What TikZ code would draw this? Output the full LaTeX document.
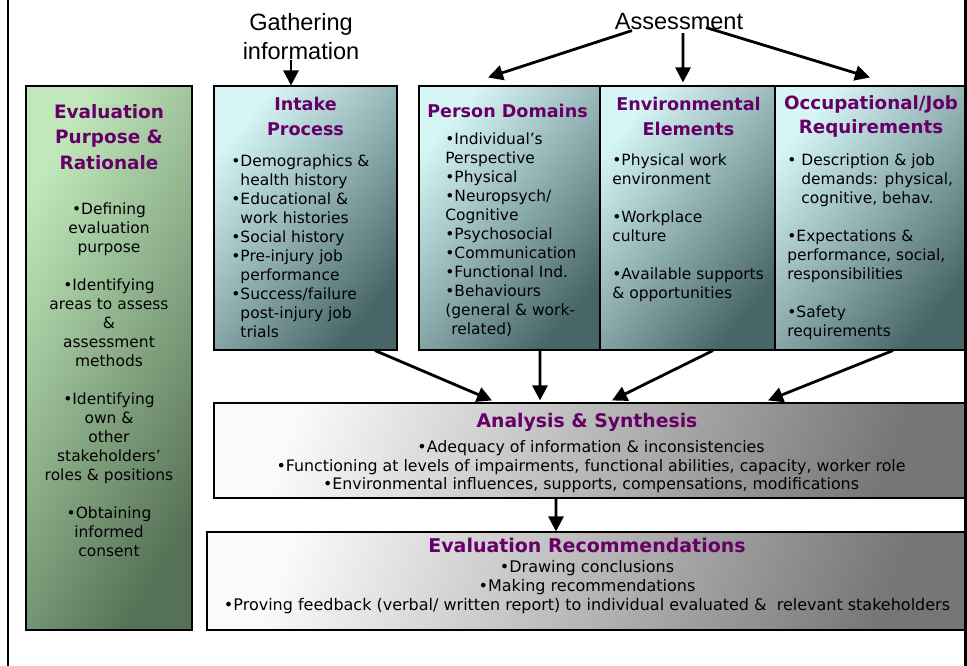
\documentclass[tikz,border=0pt]{standalone}
\usepackage{fontspec}
\setmainfont{DejaVu Sans}
\newfontfamily\arialfont{Liberation Sans}
\usepackage{xcolor}
\usepackage{tikz}
\usetikzlibrary{arrows.meta, positioning, calc}

\definecolor{titlepurple}{RGB}{102,0,102}
\definecolor{greenlight}{RGB}{192,232,186}
\definecolor{greendark}{RGB}{86,114,86}
\definecolor{teallight}{RGB}{214,246,246}
\definecolor{tealdark}{RGB}{72,102,104}
\definecolor{greylight}{RGB}{250,250,250}
\definecolor{greydark}{RGB}{118,118,118}

\tikzset{
    panel/.style={draw=black, line width=0.6pt, inner sep=0pt},
    greenpanel/.style={panel, top color=greenlight, bottom color=greendark, shading angle=60},
    tealpanel/.style={panel, top color=teallight, bottom color=tealdark, shading angle=50},
    greypanel/.style={panel, top color=greylight, bottom color=greydark, shading angle=70},
    title/.style={font=\fontsize{10}{14}\selectfont\bfseries, text=titlepurple, align=center, inner sep=0pt},
    body/.style={font=\fontsize{8.8}{10.8}\selectfont, align=left, inner sep=0pt, anchor=west},
    bodyc/.style={font=\fontsize{8.8}{10.8}\selectfont, align=center, inner sep=0pt},
    widebody/.style={font=\fontsize{9}{10.6}\selectfont, align=center, inner sep=0pt},
    header/.style={font=\arialfont\fontsize{13.4}{16.4}\selectfont, align=center, inner sep=0pt},
    flow/.style={line width=1.6pt, -{Triangle[length=0.3cm, width=0.3cm]}}
}

\begin{document}
\begin{tikzpicture}
        \useasboundingbox (0,0) rectangle (19.34,13.32);
        % --- Frame ---
        \draw[line width=1.6pt] (0.16,0) -- (0.16,13.32);
        \draw[line width=1.2pt] (19.31,0) -- (19.31,13.32);

        % --- Headers ---
        \node[header] (gather) at (6.02, 12.58) {Gathering\\information};
        \node[header] (assess) at (13.58, 12.88) {Assessment};

        % --- Evaluation purpose ---
        \node[greenpanel, minimum width=3.32cm, minimum height=10.88cm] (purpose) at (2.18, 6.16) {};
        \node[title, font=\fontsize{10.5}{14.7}\selectfont\bfseries] (purposetitle) at (2.18, 10.58) {Evaluation\\Purpose \&\\Rationale};
        \node[bodyc] (purposetext) at (2.18, 5.73) {\textbullet Defining\\evaluation\\purpose\\[10.8pt]
            \textbullet Identifying\\areas to assess\\\&\\assessment\\methods\\[10.8pt]
            \textbullet Identifying\\own \&\\other\\stakeholders’\\roles \& positions\\[10.8pt]
            \textbullet Obtaining\\informed\\consent};

        % --- Intake process ---
        \node[tealpanel, minimum width=3.66cm, minimum height=5.28cm] (intake) at (6.11, 8.96) {};
        \node[title] (intaketitle) at (6.11, 10.99) {Intake\\Process};
        \node[body] (intaketext) at (4.62, 8.39) {\textbullet Demographics \&\\\hphantom{\textbullet}health history\\
            \textbullet Educational \&\\\hphantom{\textbullet}work histories\\\textbullet Social history\\
            \textbullet Pre-injury job\\\hphantom{\textbullet}performance\\\textbullet Success/failure\\
            \hphantom{\textbullet}post-injury job\\\hphantom{\textbullet}trials};

        % --- Person domains ---
        \node[tealpanel, minimum width=3.62cm, minimum height=5.28cm] (person) at (10.19, 8.96) {};
        \node[title] (persontitle) at (10.15, 11.1) {Person Domains};
        \node[body] (persontext) at (8.9, 8.63) {\textbullet Individual’s\\Perspective\\\textbullet Physical\\
            \textbullet Neuropsych/\\Cognitive\\\textbullet Psychosocial\\\textbullet Communication\\
            \textbullet Functional Ind.\\\textbullet Behaviours\\(general \& work-\\\hphantom{(}related)};

        % --- Environmental elements ---
        \node[tealpanel, minimum width=3.5cm, minimum height=5.28cm] (env) at (13.75, 8.96) {};
        \node[title] (envtitle) at (13.77, 10.99) {Environmental\\Elements};
        \node[body] (envtext) at (12.24, 8.76) {\textbullet Physical work\\environment\\[10.8pt]
            \textbullet Workplace\\culture\\[10.8pt]
            \textbullet Available supports\\\& opportunities};

        % --- Occupational requirements ---
        \node[tealpanel, minimum width=3.8cm, minimum height=5.28cm] (occ) at (17.4, 8.96) {};
        \node[title, font=\fontsize{10.4}{14}\selectfont\bfseries] (occtitle) at (17.42, 10.99) {Occupational/Job\\Requirements};
        \node[body] (occtext) at (15.74, 8.38) {\textbullet\ Description \& job\\\hphantom{\textbullet\ }demands: physical,\\
            \hphantom{\textbullet\ }cognitive, behav.\\[10.8pt]
            \textbullet Expectations \&\\performance, social,\\responsibilities\\[10.8pt]
            \textbullet Safety\\requirements};

        % --- Analysis & synthesis ---
        \node[greypanel, minimum width=15.02cm, minimum height=1.9cm] (analysis) at (11.79, 4.31) {};
        \node[title, font=\fontsize{10.7}{14}\selectfont\bfseries] (analysistitle) at (11.74, 4.88) {Analysis \& Synthesis};
        \node[widebody] (analysistext) at (11.82, 3.98) {\textbullet Adequacy of information \& inconsistencies\\
            \textbullet Functioning at levels of impairments, functional abilities, capacity, worker role\\
            \textbullet Environmental influences, supports, compensations, modifications};

        % --- Recommendations ---
        \node[greypanel, minimum width=15.16cm, minimum height=1.96cm] (rec) at (11.72, 1.70) {};
        \node[title, font=\fontsize{10.8}{14}\selectfont\bfseries] (rectitle) at (11.74, 2.42) {Evaluation Recommendations};
        \node[widebody, font=\fontsize{9.1}{10.6}\selectfont] (rectext) at (11.74, 1.58) {\textbullet Drawing conclusions\\\textbullet Making recommendations\\
            \textbullet Proving feedback (verbal/ written report) to individual evaluated \&\ \ relevant stakeholders};

        % --- Arrows ---
        \draw[flow] ($(gather.south)+(-0.2,0)$) -- ($(intake.north)+(-0.29,0)$);
        \draw[flow] ($(assess.south)+(-0.94,0)$) -- ($(person.north)+(-0.43,0.16)$);
        \draw[flow] ($(assess.south)+(0.08,-0.05)$) -- ($(env.north)+(-0.09,0.06)$);
        \draw[flow] ($(assess.south)+(0.54,0.06)$) -- ($(occ.north)+(0,0.16)$);
        \draw[flow] ($(intake.south)+(1.39,0)$) -- ($(analysis.north)+(-1.95,0.04)$);
        \draw[flow] ($(person.south)+(0.61,0)$) -- ($(analysis.north)+(-0.99,0.04)$);
        \draw[flow] ($(env.south)+(0.51,0)$) -- ($(analysis.north)+(0.45,0.04)$);
        \draw[flow] ($(occ.south)+(0.46,0)$) -- ($(analysis.north)+(3.57,0.04)$);
        \draw[flow] ($(analysis.south)+(-0.67,0)$) -- ($(rec.north)+(-0.6,0)$);
    \end{tikzpicture}
\end{document}
